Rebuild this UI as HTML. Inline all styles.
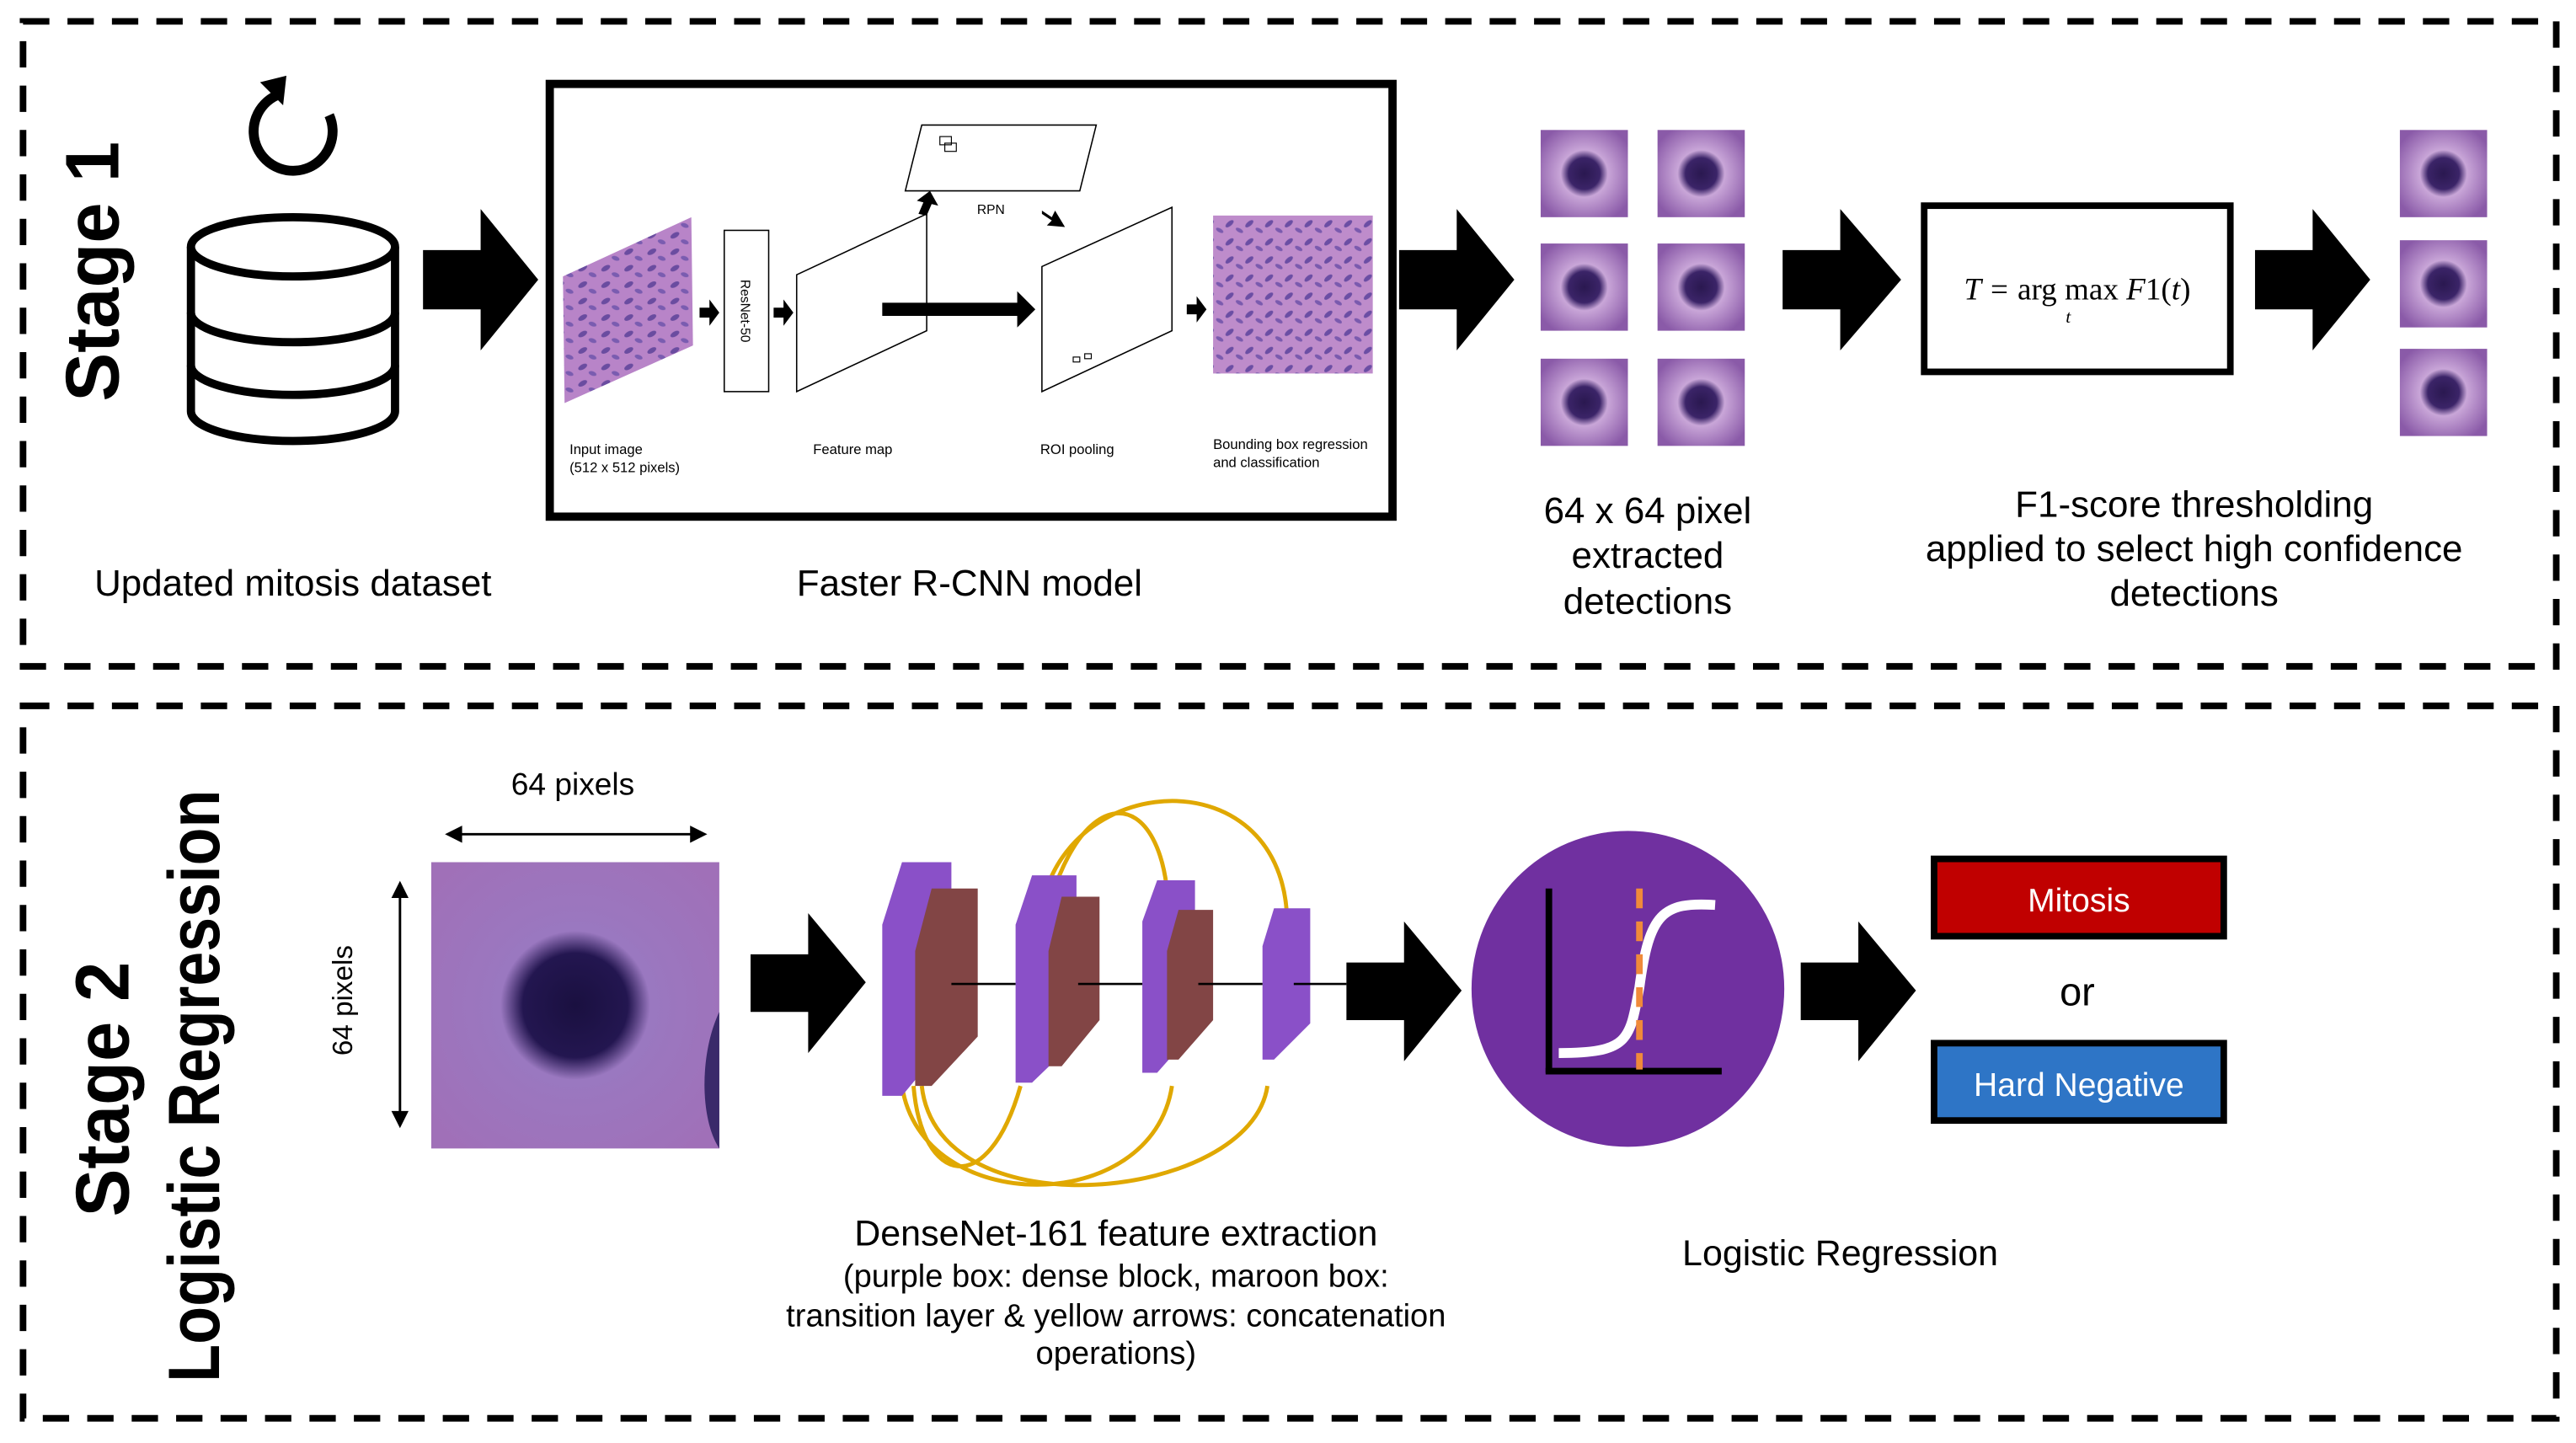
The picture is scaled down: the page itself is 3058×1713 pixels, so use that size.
<!DOCTYPE html>
<html><head><meta charset="utf-8"><style>html,body{margin:0;padding:0;background:#fff}svg{display:block}</style></head>
<body>
<svg width="3058" height="1713" viewBox="0 0 1565 877" preserveAspectRatio="none" xmlns="http://www.w3.org/2000/svg" font-family="Liberation Sans, sans-serif">
<defs>
<radialGradient id="cell" cx="50%" cy="50%" r="60%"><stop offset="0" stop-color="#2a1850"/><stop offset="0.3" stop-color="#3b2468"/><stop offset="0.45" stop-color="#c9a6d8"/><stop offset="1" stop-color="#8a5aa8"/></radialGradient>
<radialGradient id="big" cx="50%" cy="50%" r="65%"><stop offset="0" stop-color="#1a1040"/><stop offset="0.28" stop-color="#231650"/><stop offset="0.4" stop-color="#9a78c0"/><stop offset="1" stop-color="#a070b8"/></radialGradient>
<pattern id="histo" width="14" height="10" patternUnits="userSpaceOnUse"><rect width="14" height="10" fill="#b884c8"/><ellipse cx="4" cy="3" rx="3" ry="1.5" fill="#6a4ca0" transform="rotate(-30 4 3)"/><ellipse cx="10" cy="7" rx="2.5" ry="1.3" fill="#7a5cb0" transform="rotate(20 10 7)"/></pattern>
<pattern id="histo2" width="12" height="11" patternUnits="userSpaceOnUse"><rect width="12" height="11" fill="#be8ccb"/><ellipse cx="3" cy="4" rx="3" ry="1.4" fill="#6b4ea4" transform="rotate(-40 3 4)"/><ellipse cx="9" cy="8" rx="2.5" ry="1.2" fill="#7a5aae" transform="rotate(30 9 8)"/></pattern>
</defs>
<g fill="none" stroke="#000" stroke-width="4" stroke-dasharray="16,11">
<rect x="14" y="13" width="1539" height="392"/>
<rect x="14" y="429" width="1539" height="433"/>
</g>
<text transform="translate(72,165) rotate(-90)" text-anchor="middle" font-size="46" font-weight="bold" textLength="158" lengthAdjust="spacingAndGlyphs">Stage 1</text>
<!-- rotate icon -->
<path d="M200,70 A24,24 0 1 1 168,58" fill="none" stroke="#000" stroke-width="6"/>
<path d="M158,50 L174,46 L172,64 Z" fill="#000"/>
<!-- database -->
<g fill="#fff" stroke="#000" stroke-width="5">
<path d="M116,150 V250 A62,18 0 0 0 240,250 V150"/>
<ellipse cx="178" cy="150" rx="62" ry="18"/>
<path d="M116,190 A62,18 0 0 0 240,190" fill="none"/>
<path d="M116,222 A62,18 0 0 0 240,222" fill="none"/>
</g>
<g fill="#000">
<path d="M257,152 H292 V127 L327,170 L292,213 V188 H257 Z"/>
<path d="M850,152 H885 V127 L920,170 L885,213 V188 H850 Z"/>
<path d="M1083,152 H1118 V127 L1155,170 L1118,213 V188 H1083 Z"/>
<path d="M1370,152 H1405 V127 L1440,170 L1405,213 V188 H1370 Z"/>
<path d="M456,580 H491 V555 L526,597 L491,640 V615 H456 Z"/>
<path d="M818,585 H853 V560 L888,602 L853,645 V620 H818 Z"/>
<path d="M1094,585 H1129 V560 L1164,602 L1129,645 V620 H1094 Z"/>
</g>
<!-- Faster RCNN box -->
<rect x="334" y="51" width="512" height="263" fill="#fff" stroke="#000" stroke-width="5"/>
<polygon points="342,168 420,132 421,210 343,245" fill="url(#histo)"/>
<rect x="440" y="140" width="27" height="98" fill="#fff" stroke="#000" stroke-width="0.8"/>
<text transform="translate(450,189) rotate(90)" text-anchor="middle" font-size="8">ResNet-50</text>
<polygon points="484,167 563,130 563,201 484,238" fill="#fff" stroke="#000" stroke-width="0.8"/>
<polygon points="560,76 666,76 656,116 550,116" fill="#fff" stroke="#000" stroke-width="0.8"/>
<rect x="571" y="83" width="7" height="5" fill="none" stroke="#000" stroke-width="0.6"/><rect x="574" y="87" width="7" height="5" fill="none" stroke="#000" stroke-width="0.6"/>
<text x="602" y="130" text-anchor="middle" font-size="8">RPN</text>
<polygon points="633,162 712,126 712,201 633,238" fill="#fff" stroke="#000" stroke-width="0.8"/>
<rect x="652" y="217" width="4" height="3" fill="none" stroke="#000" stroke-width="0.6"/><rect x="659" y="215" width="4" height="3" fill="none" stroke="#000" stroke-width="0.6"/>
<rect x="737" y="131" width="97" height="96" fill="url(#histo2)"/>
<g fill="#000">
<path d="M425,187 h6 v-5 l6,8 l-6,8 v-5 h-6z"/>
<path d="M470,187 h6 v-5 l6,8 l-6,8 v-5 h-6z"/>
<path d="M536,184 h82 v-7 l11,11 l-11,11 v-7 h-82z"/>
<path d="M721,185 h6 v-5 l6,8 l-6,8 v-5 h-6z"/>
<path d="M558,130 l3,-7 l-4,-1 l8,-6 l5,9 l-4,-1 l-3,7z"/>
<path d="M633,128 l6,4 l2,-4 l6,10 l-11,-1 l3,-3 l-6,-4z"/>
</g>
<g font-size="8.5">
<text x="346" y="276">Input image</text><text x="346" y="287">(512 x 512 pixels)</text>
<text x="494" y="276">Feature map</text>
<text x="632" y="276">ROI pooling</text>
<text x="737" y="273">Bounding box regression</text><text x="737" y="284">and classification</text>
</g>
<!-- patches -->
<g>
<rect x="936" y="79" width="53" height="53" fill="url(#cell)"/>
<rect x="1007" y="79" width="53" height="53" fill="url(#cell)"/>
<rect x="936" y="148" width="53" height="53" fill="url(#cell)"/>
<rect x="1007" y="148" width="53" height="53" fill="url(#cell)"/>
<rect x="936" y="218" width="53" height="53" fill="url(#cell)"/>
<rect x="1007" y="218" width="53" height="53" fill="url(#cell)"/>
<rect x="1458" y="79" width="53" height="53" fill="url(#cell)"/>
<rect x="1458" y="146" width="53" height="53" fill="url(#cell)"/>
<rect x="1458" y="212" width="53" height="53" fill="url(#cell)"/>
</g>
<rect x="1169" y="125" width="186" height="101" fill="#fff" stroke="#000" stroke-width="4"/>
<text x="1262" y="182" text-anchor="middle" font-size="19" font-family="Liberation Serif, serif" font-style="italic">T = <tspan font-style="normal">arg max</tspan> F<tspan font-style="normal">1(</tspan>t<tspan font-style="normal">)</tspan></text>
<text x="1255" y="196" font-size="11" font-family="Liberation Serif, serif" font-style="italic">t</text>
<g font-size="22.5" text-anchor="middle">
<text x="178" y="362">Updated mitosis dataset</text>
<text x="589" y="362">Faster R-CNN model</text>
<text x="1001" y="318">64 x 64 pixel</text><text x="1001" y="345">extracted</text><text x="1001" y="373">detections</text>
<text x="1333" y="314">F1-score thresholding</text><text x="1333" y="341">applied to select high confidence</text><text x="1333" y="368">detections</text>
</g>
<!-- Stage 2 -->
<text transform="translate(78,662) rotate(-90)" text-anchor="middle" font-size="46" font-weight="bold" textLength="155" lengthAdjust="spacingAndGlyphs">Stage 2</text>
<text transform="translate(133,660) rotate(-90)" text-anchor="middle" font-size="44" font-weight="bold" textLength="360" lengthAdjust="spacingAndGlyphs">Logistic Regression</text>
<rect x="262" y="524" width="175" height="174" fill="url(#big)"/>
<path d="M437,615 C425,640 425,680 437,698 Z" fill="#3a2a6a"/>
<g stroke="#000" stroke-width="1.5" fill="#000">
<line x1="276" y1="507" x2="424" y2="507"/><path d="M272,507 l8,-4 v8z"/><path d="M428,507 l-8,-4 v8z"/>
<line x1="243" y1="541" x2="243" y2="680"/><path d="M243,537 l-4,8 h8z"/><path d="M243,684 l-4,-8 h8z"/>
</g>
<text x="348" y="483" text-anchor="middle" font-size="19">64 pixels</text>
<text transform="translate(214,608) rotate(-90)" text-anchor="middle" font-size="17">64 pixels</text>
<!-- densenet -->
<g stroke="#e0a800" stroke-width="2.5" fill="none">
<path d="M632,580 C620,470 780,450 782,560"/>
<path d="M632,575 C650,470 710,470 710,560"/>
<path d="M548,660 C560,740 700,740 712,660"/>
<path d="M560,660 C570,750 760,730 770,660"/>
<path d="M620,660 C600,730 560,720 555,660"/>
</g>
<g>
<polygon points="536,562 548,524 578,524 578,630 548,666 536,666" fill="#8a50c8"/>
<polygon points="556,578 566,540 594,540 594,630 566,660 556,660" fill="#824545"/>
<polygon points="617,562 627,532 654,532 654,632 627,658 617,658" fill="#8a50c8"/>
<polygon points="637,578 645,545 668,545 668,620 645,648 637,648" fill="#824545"/>
<polygon points="694,560 703,535 726,535 726,626 703,652 694,652" fill="#8a50c8"/>
<polygon points="709,578 716,553 737,553 737,620 716,644 709,644" fill="#824545"/>
<polygon points="767,575 774,552 796,552 796,622 774,644 767,644" fill="#8a50c8"/>
</g>
<g stroke="#000" stroke-width="1.3"><line x1="578" y1="598" x2="617" y2="598"/><line x1="655" y1="598" x2="694" y2="598"/><line x1="728" y1="598" x2="767" y2="598"/><line x1="786" y1="598" x2="818" y2="598"/></g>
<ellipse cx="989" cy="601" rx="95" ry="96" fill="#7030a0"/>
<line x1="941" y1="540" x2="941" y2="652" stroke="#000" stroke-width="4"/>
<line x1="939" y1="651" x2="1046" y2="651" stroke="#000" stroke-width="4"/>
<path d="M947,640 C990,640 990,632 996,600 C1002,555 1010,548 1042,550" fill="none" stroke="#fff" stroke-width="6"/>
<line x1="996" y1="540" x2="996" y2="650" stroke="#f08a3a" stroke-width="4" stroke-dasharray="12,8"/>
<rect x="1175" y="522" width="176" height="47" fill="#c00000" stroke="#000" stroke-width="4"/>
<text x="1263" y="554" text-anchor="middle" font-size="20" fill="#fff">Mitosis</text>
<text x="1262" y="611" text-anchor="middle" font-size="24">or</text>
<rect x="1175" y="634" width="176" height="47" fill="#2e75c6" stroke="#000" stroke-width="4"/>
<text x="1263" y="666" text-anchor="middle" font-size="20" fill="#fff">Hard Negative</text>
<g text-anchor="middle">
<text x="678" y="757" font-size="22">DenseNet-161 feature extraction</text>
<text x="678" y="782" font-size="19.5">(purple box: dense block, maroon box:</text>
<text x="678" y="806" font-size="19.5">transition layer &amp; yellow arrows: concatenation</text>
<text x="678" y="829" font-size="19.5">operations)</text>
<text x="1118" y="769" font-size="22">Logistic Regression</text>
</g>
</svg>
</body></html>
